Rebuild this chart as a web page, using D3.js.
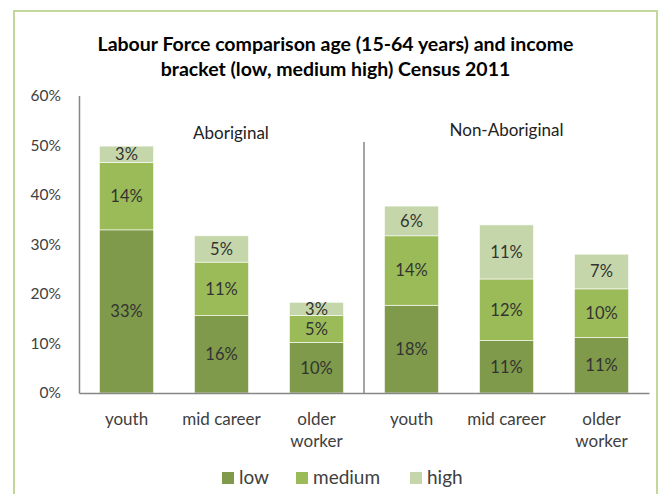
<!DOCTYPE html>
<html>
<head>
<meta charset="utf-8">
<script src="https://cdn.jsdelivr.net/npm/d3@7"></script>
<style>
  html, body { margin: 0; padding: 0; background: #ffffff; }
  svg { display: block; font-family: Lato, "Open Sans", sans-serif; }
</style>
</head>
<body>
<div id="chart"></div>
<script>
// ---- data ----
const titleLines = ["Labour Force comparison age (15-64 years) and income", "bracket (low, medium high) Census 2011"];
const groups = ["Aboriginal", "Non-Aboriginal"];
const categories = ["youth", "mid career", "older worker"];
const categoryLabelLines = [["youth"], ["mid career"], ["older", "worker"]];
const seriesNames = ["low", "medium", "high"];
const lowValues    = [32.9, 15.6, 10.2, 17.7, 10.6, 11.2];
const mediumValues = [13.6, 10.8,  5.4, 14.0, 12.4,  9.8];
const highValues   = [ 3.3,  5.3,  2.7,  6.0, 10.9,  7.0];
const yTicks = [0, 10, 20, 30, 40, 50, 60];
const colors = ["#7f9a4a", "#9bbb59", "#c5d7aa"];

// ---- build table ----
const keys = [];
groups.forEach(g => categories.forEach(c => keys.push(g + "|" + c)));
const rows = keys.map((k, i) => ({ key: k, cat: i % 3, low: lowValues[i], medium: mediumValues[i], high: highValues[i] }));
const stacked = d3.stack().keys(seriesNames)(rows);

const W = 662, H = 494;
const svg = d3.select("#chart").append("svg").attr("width", W).attr("height", H);

// frame
svg.append("rect").attr("x", 14).attr("y", 11).attr("width", 643).attr("height", 520)
  .attr("fill", "#ffffff").attr("stroke", "#c3d69b").attr("stroke-width", 2);

// title
svg.append("g").selectAll("text").data(titleLines).join("text")
  .attr("x", 335.5).attr("y", (d, i) => 51 + i * 25)
  .attr("text-anchor", "middle").attr("font-weight", "bold").attr("font-size", 19.5)
  .attr("fill", "#000").text(d => d);

// scales
const x = d3.scaleBand().domain(keys).range([79, 649]).paddingInner(0.43).paddingOuter(0.215);
const y = d3.scaleLinear().domain([0, 60]).range([393, 95.5]);

// bars
const layers = svg.append("g").selectAll("g").data(stacked).join("g")
  .attr("fill", (d, i) => colors[i]);
layers.selectAll("rect").data(d => d).join("rect")
  .attr("x", d => x(d.data.key)).attr("width", x.bandwidth())
  .attr("y", d => y(d[1])).attr("height", d => y(d[0]) - y(d[1]))
  .attr("stroke", "#ffffff").attr("stroke-width", 0.6);

// segment labels
const fmt = v => Math.round(v) + "%";
layers.selectAll("text").data(d => d.map(p => ({ p, v: p[1] - p[0] }))).join("text")
  .attr("x", d => x(d.p.data.key) + x.bandwidth() / 2)
  .attr("y", d => (y(d.p[0]) + y(d.p[1])) / 2)
  .attr("dy", "0.36em").attr("text-anchor", "middle")
  .attr("font-size", 16.5).attr("fill", "#333333")
  .text(d => fmt(d.v));

// y axis
const yAxis = svg.append("g").attr("transform", "translate(79,0)")
  .call(d3.axisLeft(y).tickValues(yTicks).tickFormat(d => d + "%").tickSize(0).tickSizeOuter(0).tickPadding(18));
yAxis.select(".domain").attr("stroke", "#868686").attr("stroke-width", 1.5);
yAxis.selectAll("text").attr("font-size", 15.5).attr("fill", "#404040").attr("font-family", "Lato, sans-serif");

// x axis
const xAxis = svg.append("g").attr("transform", "translate(0,393)")
  .call(d3.axisBottom(x).tickSize(0).tickSizeOuter(0).tickFormat(""));
xAxis.select(".domain").attr("stroke", "#868686").attr("stroke-width", 1.5);
xAxis.selectAll(".tick").each(function(k, i) {
  const t = d3.select(this).select("text").text(null)
    .attr("y", 0).attr("dy", null)
    .attr("font-size", 17).attr("fill", "#404040").attr("font-family", "Lato, sans-serif");
  categoryLabelLines[i % 3].forEach((line, j) => {
    t.append("tspan").attr("x", 0).attr("y", 32 + j * 22).text(line);
  });
});

// group separator
const sepX = (x(keys[2]) + x.bandwidth() + x(keys[3])) / 2;
svg.append("line").attr("x1", sepX).attr("x2", sepX).attr("y1", 142).attr("y2", 393)
  .attr("stroke", "#868686").attr("stroke-width", 1.5);

// group labels
svg.append("text").attr("x", 231).attr("y", 138.5).attr("text-anchor", "middle")
  .attr("font-size", 17).attr("fill", "#222").text(groups[0]);
svg.append("text").attr("x", 506.5).attr("y", 136).attr("text-anchor", "middle")
  .attr("font-size", 17).attr("fill", "#222").text(groups[1]);

// legend
const legendX = [222, 296, 410];
const lg = svg.append("g").selectAll("g").data(seriesNames).join("g")
  .attr("transform", (d, i) => `translate(${legendX[i]},472)`);
lg.append("rect").attr("width", 12).attr("height", 12).attr("fill", (d, i) => colors[i]);
lg.append("text").attr("x", 17).attr("y", 12).attr("font-size", 19).attr("fill", "#404040").text(d => d);
</script>
</body>
</html>
